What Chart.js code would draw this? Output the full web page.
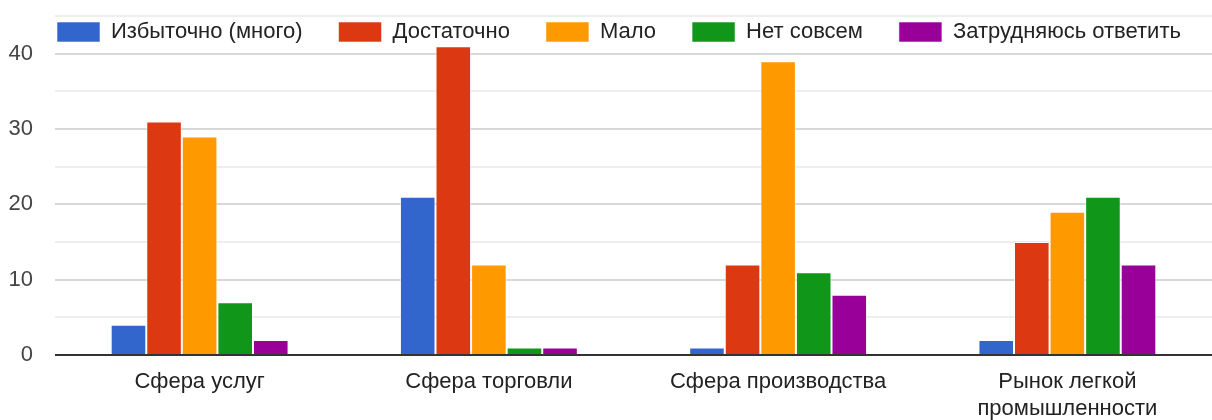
<!DOCTYPE html>
<html>
<head>
<meta charset="utf-8">
<script src="https://cdn.jsdelivr.net/npm/chart.js@4/dist/chart.umd.min.js"></script>
<style>
  html, body { margin: 0; padding: 0; background: #fff; }
  #wrap { width: 1212px; height: 420px; }
</style>
</head>
<body>
<div id="wrap"><canvas id="chart"></canvas></div>
<script>
const categories = ['Сфера услуг', 'Сфера торговли', 'Сфера производства', ['Рынок легкой', 'промышленности']];
const seriesNames = ['Избыточно (много)', 'Достаточно', 'Мало', 'Нет совсем', 'Затрудняюсь ответить'];
const seriesColors = ['#3366cc', '#dc3912', '#ff9900', '#109618', '#990099'];

const izbytochno = [4, 21, 1, 2];
const dostatochno = [31, 41, 12, 15];
const malo = [29, 12, 39, 19];
const netSovsem = [7, 1, 11, 21];
const zatrudnyayus = [2, 1, 8, 12];

const yTickLabels = [0, 10, 20, 30, 40];

const seriesValues = [izbytochno, dostatochno, malo, netSovsem, zatrudnyayus];
const fontFamily = '"Liberation Sans", Arial, sans-serif';

// Google-style legend: sits inside the plot, between the top gridline and the 40 line
const legendInside = {
    id: 'legendInside',
    afterLayout(chart) {
        const lg = chart.legend;
        const labels = lg.options.labels;
        const itemH = Math.max(labels.font.size, labels.boxHeight);
        lg.left = 57 - labels.padding;
        lg.right = chart.width + 300;
        lg.top = 32 - labels.padding - itemH / 2;
        lg.bottom = lg.top + labels.padding + itemH + 10;
    }
};

new Chart(document.getElementById('chart'), {
    type: 'bar',
    data: {
        labels: categories,
        datasets: seriesNames.map((name, i) => ({
            label: name,
            data: seriesValues[i],
            backgroundColor: seriesColors[i],
            borderColor: 'rgba(255,255,255,0.55)',
            borderWidth: 1,
            borderSkipped: 'bottom',
            barPercentage: 1,
            categoryPercentage: 0.615
        }))
    },
    options: {
        responsive: true,
        maintainAspectRatio: false,
        animation: false,
        layout: { padding: { top: 15, right: 0, left: 0, bottom: 0 } },
        scales: {
            x: {
                grid: { display: false },
                border: { display: false },
                ticks: {
                    color: '#222',
                    padding: 6,
                    maxRotation: 0,
                    autoSkip: false,
                    font: { family: fontFamily, size: 22, lineHeight: 1.2 }
                },
                afterFit(scale) { scale.height = 65; }
            },
            y: {
                min: 0,
                max: 45,
                border: { display: false },
                grid: {
                    drawTicks: true,
                    tickLength: 22,
                    tickColor: 'rgba(0,0,0,0)',
                    lineWidth: 2,
                    color: ctx => {
                        const v = ctx.tick.value;
                        if (v === 0) return '#333';
                        return v % 10 === 0 ? '#d8d8d8' : '#eeeeee';
                    }
                },
                ticks: {
                    stepSize: 5,
                    color: '#444',
                    padding: 0,
                    font: { family: fontFamily, size: 22 },
                    callback: value => yTickLabels.includes(value) ? String(value) : ''
                },
                afterFit(scale) { scale.width = 55; }
            }
        },
        plugins: {
            legend: {
                position: 'top',
                align: 'start',
                maxHeight: 1,
                labels: {
                    boxWidth: 43,
                    boxHeight: 20,
                    padding: 36,
                    color: '#222',
                    font: { family: fontFamily, size: 22 }
                }
            },
            tooltip: { enabled: false }
        }
    },
    plugins: [legendInside]
});
</script>
</body>
</html>
